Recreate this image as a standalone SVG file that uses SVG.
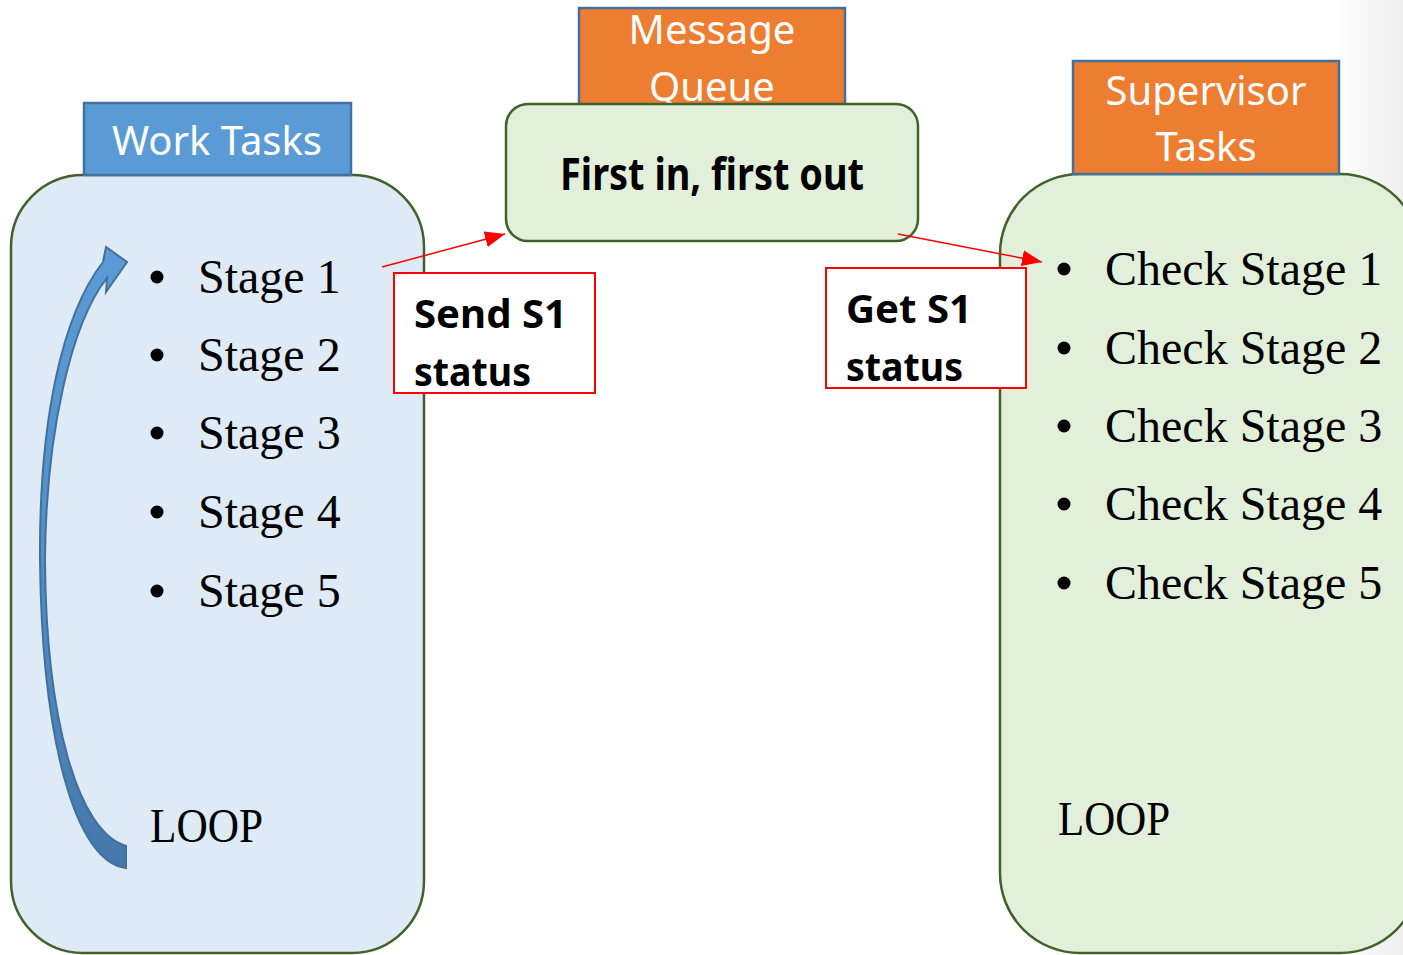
<svg xmlns="http://www.w3.org/2000/svg" width="1403" height="955" viewBox="0 0 1403 955">
  <defs>
    <linearGradient id="edgeShade" x1="0" y1="0" x2="1" y2="0">
      <stop offset="0" stop-color="#ffffff"/>
      <stop offset="1" stop-color="#efefef"/>
    </linearGradient>
    <linearGradient id="loopFill" x1="0" y1="0" x2="0" y2="1">
      <stop offset="0" stop-color="#5b9bd5"/>
      <stop offset="0.5" stop-color="#5390c9"/>
      <stop offset="1" stop-color="#4677aa"/>
    </linearGradient>
    <marker id="redHead" markerUnits="userSpaceOnUse" markerWidth="22" markerHeight="16" refX="20" refY="8" orient="auto">
      <path d="M0,0 L20,8 L0,16 Z" fill="#ff0000"/>
    </marker>
    <style>
      .panel { stroke: #41622a; stroke-width: 2.5; }
      .header { stroke: #41719c; stroke-width: 2.5; }
      .hdrText { font-family: "Noto Sans", "Open Sans", sans-serif; font-size: 40px; fill: #ffffff; text-anchor: middle; }
      .item { font-family: "Liberation Serif", "Times New Roman", serif; font-size: 48px; fill: #000000; }
      .bold { font-family: "Noto Sans", "Open Sans", sans-serif; font-weight: bold; fill: #000000; }
      .note { fill: #ffffff; stroke: #ff0000; stroke-width: 2; }
      .link { stroke: #ff0000; stroke-width: 1.5; fill: none; }
    </style>
  </defs>

  <rect x="0" y="0" width="1403" height="955" fill="#ffffff"/>
  <rect x="1330" y="0" width="73" height="955" fill="url(#edgeShade)"/>

  <!-- Work tasks panel -->
  <g id="work-tasks">
    <rect class="panel" x="11" y="175" width="413" height="778" rx="72" fill="#deeaf6"/>
    <rect class="header" x="84" y="103" width="267" height="72" fill="#5b9bd5"/>
    <text class="hdrText" x="217" y="155">Work Tasks</text>
    <g fill="#000000">
      <circle cx="157" cy="277" r="6.5"/>
      <circle cx="157" cy="355" r="6.5"/>
      <circle cx="157" cy="433" r="6.5"/>
      <circle cx="157" cy="512" r="6.5"/>
      <circle cx="157" cy="591" r="6.5"/>
    </g>
    <text class="item" x="198" y="293">Stage 1</text>
    <text class="item" x="198" y="371">Stage 2</text>
    <text class="item" x="198" y="449">Stage 3</text>
    <text class="item" x="198" y="528">Stage 4</text>
    <text class="item" x="198" y="607">Stage 5</text>
    <text class="item" x="150" y="842" textLength="113" lengthAdjust="spacingAndGlyphs">LOOP</text>
    <!-- curved loop-back arrow -->
    <path d="M126,868 C75,862 42,740 40,560 C39,420 62,315 103,262 L106,247 L127,262 L106,292 L107,278 C72,322 46,430 45,560 C46,720 78,832 126,846 Z" fill="url(#loopFill)" stroke="#41719c" stroke-width="2"/>
  </g>

  <!-- Message queue -->
  <g id="message-queue">
    <rect class="header" x="579" y="8" width="266" height="100" fill="#ed7d31"/>
    <text class="hdrText" x="712" y="44">Message</text>
    <text class="hdrText" x="712" y="101">Queue</text>
    <rect class="panel" x="506" y="104" width="412" height="137" rx="22" fill="#e2efda"/>
    <text class="bold" x="560" y="190" font-size="44" textLength="304" lengthAdjust="spacingAndGlyphs">First in, first out</text>
  </g>

  <!-- Supervisor tasks panel -->
  <g id="supervisor-tasks">
    <rect class="panel" x="1000" y="174" width="420" height="779" rx="80" fill="#e2efda"/>
    <rect class="header" x="1073" y="61" width="266" height="113" fill="#ed7d31"/>
    <text class="hdrText" x="1206" y="105">Supervisor</text>
    <text class="hdrText" x="1206" y="161">Tasks</text>
    <g fill="#000000">
      <circle cx="1064" cy="269" r="6.5"/>
      <circle cx="1064" cy="348" r="6.5"/>
      <circle cx="1064" cy="426" r="6.5"/>
      <circle cx="1064" cy="504" r="6.5"/>
      <circle cx="1064" cy="583" r="6.5"/>
    </g>
    <text class="item" x="1105" y="285">Check Stage 1</text>
    <text class="item" x="1105" y="364">Check Stage 2</text>
    <text class="item" x="1105" y="442">Check Stage 3</text>
    <text class="item" x="1105" y="520">Check Stage 4</text>
    <text class="item" x="1105" y="599">Check Stage 5</text>
    <text class="item" x="1058" y="835" textLength="112" lengthAdjust="spacingAndGlyphs">LOOP</text>
  </g>

  <!-- Status labels -->
  <g id="send-label">
    <rect class="note" x="394" y="273" width="201" height="120"/>
    <text class="bold" x="414" y="328" font-size="40" textLength="153" lengthAdjust="spacingAndGlyphs">Send S1</text>
    <text class="bold" x="414" y="386" font-size="40" textLength="117" lengthAdjust="spacingAndGlyphs">status</text>
  </g>
  <g id="get-label">
    <rect class="note" x="826" y="268" width="200" height="120"/>
    <text class="bold" x="846" y="323" font-size="40" textLength="126" lengthAdjust="spacingAndGlyphs">Get S1</text>
    <text class="bold" x="846" y="381" font-size="40" textLength="117" lengthAdjust="spacingAndGlyphs">status</text>
  </g>

  <!-- Connectors -->
  <g id="connectors">
    <line class="link" x1="382" y1="267" x2="505" y2="234" marker-end="url(#redHead)"/>
    <line class="link" x1="898" y1="234" x2="1042" y2="262" marker-end="url(#redHead)"/>
  </g>
</svg>
